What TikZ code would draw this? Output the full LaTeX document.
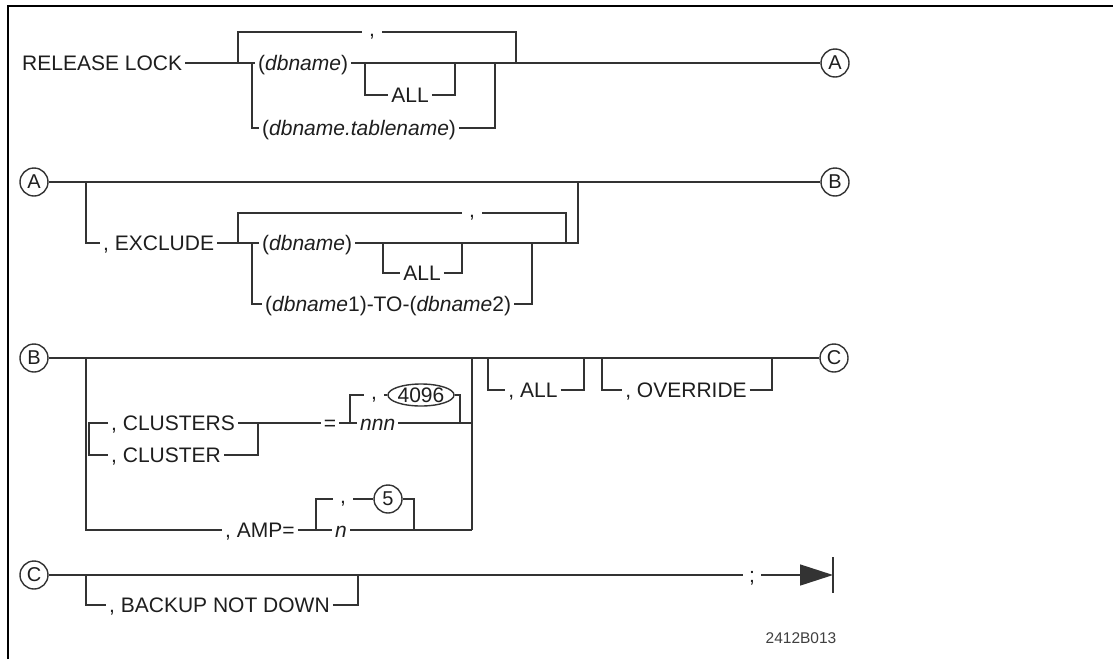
\documentclass[tikz,border=0pt]{standalone}
\usepackage{fontspec}
\setmainfont{Liberation Sans}
\usetikzlibrary{shapes.geometric,arrows.meta}
\definecolor{linec}{HTML}{333333}
\definecolor{textc}{HTML}{1E1E1E}
\newcommand{\rrfont}{\fontsize{21}{21}\selectfont}
\begin{document}
\begin{tikzpicture}[x=1pt,y=-1pt,
  rr/.style={draw=linec, line width=1.5pt},
  frameline/.style={draw=black, line width=2.6pt},
  kw/.style={font=\rrfont, text=textc, inner xsep=3pt, inner ysep=0pt, text height=15pt, text depth=0pt},
  cmm/.style={kw, text height=8pt, inner xsep=7pt},
  circ/.style={circle, draw=linec, line width=1.4pt, minimum size=28pt, inner sep=0pt, font=\fontsize{20}{20}\selectfont, text=textc},
  ovl/.style={ellipse, draw=linec, line width=1.4pt, minimum width=54pt, minimum height=22pt, inner sep=0pt, font=\rrfont, text=textc},
]
\useasboundingbox (0,0) rectangle (1113,659);
\fill[white] (0,0) rectangle (1113,659);
% frame
\coordinate (fr1) at (8,659); \coordinate (fr2) at (8,6); \coordinate (fr3) at (1113,6);
\draw[frameline] (fr1) -- (fr2) -- (fr3);

% ---------------- Row 1 ----------------
\node[kw, anchor=west] (rl) at (19,63) {RELEASE LOCK};
\coordinate (l1a) at (238,63); \coordinate (l1b) at (238,32);
\coordinate (c1a) at (252,63); \coordinate (c1b) at (252,128);
\node[kw, anchor=west] (db1) at (255,63) {(\textit{dbname})};
\node[cmm] (cm1) at (372,32) {,};
\coordinate (r1a) at (516,32); \coordinate (r1b) at (516,63);
\coordinate (al1a) at (365,63); \coordinate (al1b) at (365,95);
\node[kw] (all1) at (410,95) {ALL};
\coordinate (ar1b) at (455,95); \coordinate (ar1a) at (455,63);
\node[kw, anchor=west] (tb1) at (259,128) {(\textit{dbname.tablename})};
\coordinate (tr1b) at (495,128); \coordinate (tr1a) at (495,63);
\node[circ] (A1) at (835,63) {A};

\draw[rr] (rl.east) -- (db1.west);
\draw[rr] (db1.east) -- (A1.west);
\draw[rr] (l1a) -- (l1b) -- (cm1.west);
\draw[rr] (cm1.east) -- (r1a) -- (r1b);
\draw[rr] (c1a) -- (c1b) -- (tb1.west);
\draw[rr] (tb1.east) -- (tr1b) -- (tr1a);
\draw[rr] (al1a) -- (al1b) -- (all1.west);
\draw[rr] (all1.east) -- (ar1b) -- (ar1a);

% ---------------- Row 2 ----------------
\node[circ] (A2) at (34,182) {A};
\node[circ] (B1) at (835,182) {B};
\coordinate (o2a) at (86,182); \coordinate (o2b) at (86,243);
\node[kw, anchor=west] (ex2) at (100,243) {, EXCLUDE};
\coordinate (l2a) at (238,243); \coordinate (l2b) at (238,213);
\coordinate (c2a) at (252,243); \coordinate (c2b) at (252,304);
\node[kw, anchor=west] (db2) at (259,243) {(\textit{dbname})};
\node[cmm] (cm2) at (472,213) {,};
\coordinate (r2a) at (566,213); \coordinate (r2b) at (566,243);
\coordinate (p2b) at (578,243); \coordinate (p2a) at (578,182);
\coordinate (al2a) at (383,243); \coordinate (al2b) at (383,273);
\node[kw] (all2) at (422,273) {ALL};
\coordinate (ar2b) at (462,273); \coordinate (ar2a) at (462,243);
\node[kw, anchor=west] (to2) at (262,304) {(\textit{dbname}1)-TO-(\textit{dbname}2)};
\coordinate (tr2b) at (532,304); \coordinate (tr2a) at (532,243);

\draw[rr] (A2.east) -- (B1.west);
\draw[rr] (o2a) -- (o2b) -- (ex2.west);
\draw[rr] (ex2.east) -- (db2.west);
\draw[rr] (db2.east) -- (p2b) -- (p2a);
\draw[rr] (l2a) -- (l2b) -- (cm2.west);
\draw[rr] (cm2.east) -- (r2a) -- (r2b);
\draw[rr] (c2a) -- (c2b) -- (to2.west);
\draw[rr] (to2.east) -- (tr2b) -- (tr2a);
\draw[rr] (al2a) -- (al2b) -- (all2.west);
\draw[rr] (all2.east) -- (ar2b) -- (ar2a);

% ---------------- Row 3 ----------------
\node[circ] (B2) at (34,358) {B};
\node[circ] (C1) at (834,358) {C};
\draw[rr] (B2.east) -- (C1.west);
\coordinate (bla) at (86,358); \coordinate (blb) at (86,530);
\coordinate (bra) at (472,358); \coordinate (brb) at (472,530); \coordinate (brc) at (472,423);
\coordinate (csa) at (89,423); \coordinate (csb) at (89,455);
\node[kw, anchor=west] (cs) at (108,423) {, CLUSTERS};
\node[kw, anchor=west] (cl) at (108,455) {, CLUSTER};
\coordinate (cra) at (258,423); \coordinate (crb) at (258,455);
\node[kw] (eq) at (330,423) {=};
\coordinate (fla) at (350,423); \coordinate (flb) at (350,395);
\node[cmm] (cm3) at (374,395) {,};
\node[ovl] (d4096) at (421,395) {4096};
\coordinate (frb) at (460,395); \coordinate (fra) at (460,423);
\node[kw, anchor=west] (nnn) at (357,423) {\textit{nnn}};
\node[kw, anchor=west] (amp) at (222,530) {, AMP=};
\coordinate (f5a) at (316,530); \coordinate (f5b) at (316,499);
\node[cmm] (cm4) at (343,499) {,};
\node[circ] (c5) at (388,499) {5};
\coordinate (g5b) at (414,499); \coordinate (g5a) at (414,530);
\node[kw, anchor=west] (n5) at (332,530) {\textit{n}};

\draw[rr] (bla) -- (blb) -- (amp.west);
\draw[rr] (cs.west) -- (csa) -- (csb) -- (cl.west);
\draw[rr] (cs.east) -- (eq.west);
\draw[rr] (cl.east) -- (crb) -- (cra);
\draw[rr] (eq.east) -- (nnn.west);
\draw[rr] (fla) -- (flb) -- (cm3.west);
\draw[rr] (cm3.east) -- (d4096.west);
\draw[rr] (d4096.east) -- (frb) -- (fra);
\draw[rr] (nnn.east) -- (brc);
\draw[rr] (bra) -- (brb);
\draw[rr] (amp.east) -- (n5.west);
\draw[rr] (f5a) -- (f5b) -- (cm4.west);
\draw[rr] (cm4.east) -- (c5.west);
\draw[rr] (c5.east) -- (g5b) -- (g5a);
\draw[rr] (n5.east) -- (brb);

\coordinate (a3a) at (488,358); \coordinate (a3b) at (488,390);
\node[kw] (all3) at (533,390) {, ALL};
\coordinate (b3b) at (584,390); \coordinate (b3a) at (584,358);
\coordinate (o3a) at (602,358); \coordinate (o3b) at (602,390);
\node[kw] (ovr) at (686,390) {, OVERRIDE};
\coordinate (p3b) at (772,390); \coordinate (p3a) at (772,358);
\draw[rr] (a3a) -- (a3b) -- (all3.west);
\draw[rr] (all3.east) -- (b3b) -- (b3a);
\draw[rr] (o3a) -- (o3b) -- (ovr.west);
\draw[rr] (ovr.east) -- (p3b) -- (p3a);

% ---------------- Row 4 ----------------
\node[circ] (C2) at (34,575) {C};
\node[kw, inner xsep=6pt] (semi) at (752,575) {;};
\coordinate (bk1) at (86,575); \coordinate (bk2) at (86,605);
\node[kw, anchor=west] (bk) at (106,605) {, BACKUP NOT DOWN};
\coordinate (bk3) at (358,605); \coordinate (bk4) at (358,575);
\coordinate (tip) at (833,575);
\coordinate (bar1) at (833,557); \coordinate (bar2) at (833,593);
\draw[rr] (C2.east) -- (semi.west);
\draw[rr, -{Triangle[length=33pt,width=21pt]}] (semi.east) -- (tip);
\draw[draw=linec, line width=1.8pt] (bar1) -- (bar2);
\draw[rr] (bk1) -- (bk2) -- (bk.west);
\draw[rr] (bk.east) -- (bk3) -- (bk4);

\node[font=\fontsize{15.5}{15.5}\selectfont, text=textc!85] (id) at (801,638) {2412B013};
\end{tikzpicture}
\end{document}
